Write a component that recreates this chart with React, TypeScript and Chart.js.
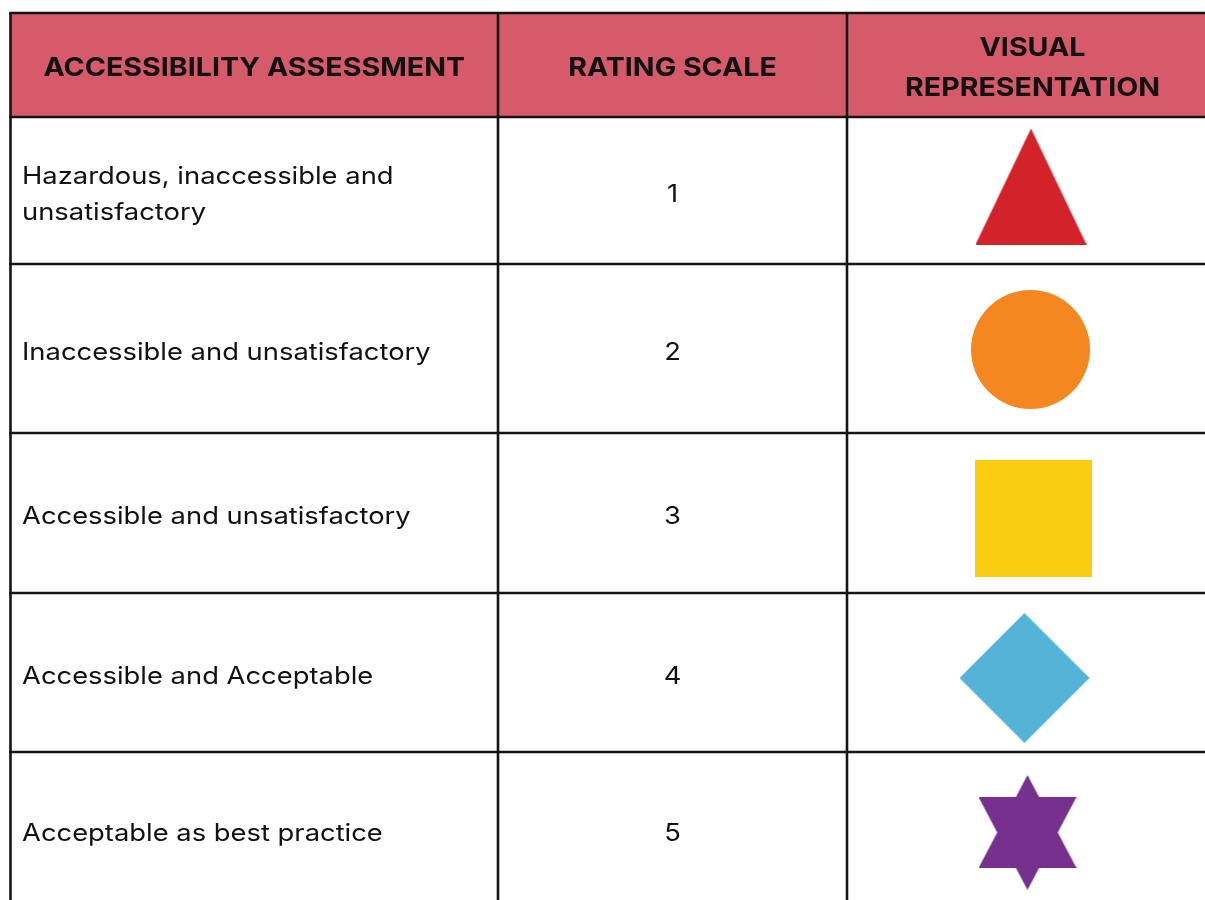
import React, { useEffect, useRef } from "react";
import { Chart, registerables } from "chart.js";

Chart.register(...registerables);

// ---------- data ----------
const headers = ["ACCESSIBILITY ASSESSMENT", "RATING SCALE", "VISUAL\nREPRESENTATION"];
const assessments = [
  "Hazardous, inaccessible and\nunsatisfactory",
  "Inaccessible and unsatisfactory",
  "Accessible and unsatisfactory",
  "Accessible and Acceptable",
  "Acceptable as best practice",
];
const ratings = [1, 2, 3, 4, 5];
const shapeKinds = ["triangle", "circle", "square", "diamond", "hexagram"];
const shapeColors = ["#D2232A", "#F58720", "#FACD12", "#54B4D8", "#76318E"];

// ---------- layout (pixel units of the chart's x / y scales) ----------
const W = 1205;
const H = 900;
const COL_EDGES = [10.5, 498, 847, 1218];
const ROW_EDGES = [13, 117, 264, 433, 593, 752, 907];
const SHAPE_NUDGE_X = [-1.5, -2, 0.5, -8, -5];
const SHAPE_NUDGE_Y = [-4, 1, 5, 5.5, 3];
const TEXT_NUDGE_Y = 2.5;
const HEADER_BG = "#D75A6B";
const LINE_COLOR = "#151515";
const HEADER_FONT = "700 26px Inter, 'Noto Sans', sans-serif";
const BODY_FONT = "400 24px Inter, 'Noto Sans', sans-serif";
const HEADER_STRETCH = 1.1;
const BODY_STRETCH = 1.14;

function makeShape(kind: string, color: string): HTMLCanvasElement {
  const c = document.createElement("canvas");
  let w = 0, h = 0;
  if (kind === "triangle") { w = 111; h = 116; }
  else if (kind === "circle") { w = 119; h = 119; }
  else if (kind === "square") { w = 117; h = 117; }
  else if (kind === "diamond") { w = 130; h = 130; }
  else { w = 98; h = 115; }
  c.width = w; c.height = h;
  const g = c.getContext("2d")!;
  g.fillStyle = color;
  g.beginPath();
  if (kind === "triangle") {
    g.moveTo(w / 2, 0); g.lineTo(w, h); g.lineTo(0, h); g.closePath();
  } else if (kind === "circle") {
    g.arc(w / 2, h / 2, w / 2, 0, Math.PI * 2);
  } else if (kind === "square") {
    g.rect(0, 0, w, h);
  } else if (kind === "diamond") {
    g.moveTo(w / 2, 0); g.lineTo(w, h / 2); g.lineTo(w / 2, h); g.lineTo(0, h / 2); g.closePath();
  } else {
    g.moveTo(w / 2, 0); g.lineTo(w, 93); g.lineTo(0, 93); g.closePath();
    g.moveTo(w / 2, h); g.lineTo(0, 22); g.lineTo(w, 22); g.closePath();
  }
  g.fill();
  return c;
}

const tablePlugin = {
  id: "tableGrid",
  beforeDatasetsDraw(chart: any) {
    const { ctx, scales } = chart;
    const xs = scales.x, ys = scales.y;
    const px = (v: number) => xs.getPixelForValue(v);
    const py = (v: number) => ys.getPixelForValue(v);
    ctx.save();
    // header background
    ctx.fillStyle = HEADER_BG;
    ctx.fillRect(px(COL_EDGES[0]), py(ROW_EDGES[0]), px(COL_EDGES[3]) - px(COL_EDGES[0]), py(ROW_EDGES[1]) - py(ROW_EDGES[0]));
    // grid lines
    ctx.strokeStyle = LINE_COLOR;
    ctx.lineWidth = 2.6;
    ROW_EDGES.forEach((r) => {
      ctx.beginPath();
      ctx.moveTo(px(COL_EDGES[0]) - 1.3, py(r));
      ctx.lineTo(px(COL_EDGES[3]), py(r));
      ctx.stroke();
    });
    COL_EDGES.forEach((c) => {
      ctx.beginPath();
      ctx.moveTo(px(c), py(ROW_EDGES[0]));
      ctx.lineTo(px(c), py(ROW_EDGES[ROW_EDGES.length - 1]) + 20);
      ctx.stroke();
    });
    // text helper: draws lines cap-centred around cy, stretched horizontally
    const drawLines = (text: string, x: number, cy: number, font: string, capH: number, lh: number, align: CanvasTextAlign, sx: number) => {
      const lines = text.split("\n");
      ctx.font = font;
      ctx.textAlign = align;
      ctx.textBaseline = "alphabetic";
      ctx.fillStyle = "#111111";
      lines.forEach((ln, i) => {
        const c = cy + (i - (lines.length - 1) / 2) * lh;
        ctx.save();
        ctx.translate(x, c + capH / 2);
        ctx.scale(sx, 1);
        ctx.fillText(ln, 0, 0);
        ctx.restore();
      });
    };
    // headers
    const hc = (py(ROW_EDGES[0]) + py(ROW_EDGES[1])) / 2;
    headers.forEach((t, i) => {
      const cx = (px(COL_EDGES[i]) + px(COL_EDGES[i + 1])) / 2;
      drawLines(t, cx, hc + 1.5, HEADER_FONT, 19, 40, "center", HEADER_STRETCH);
    });
    // body
    assessments.forEach((t, i) => {
      const cy = (py(ROW_EDGES[i + 1]) + py(ROW_EDGES[i + 2])) / 2 + TEXT_NUDGE_Y;
      drawLines(t, px(COL_EDGES[0]) + 11.5, cy, BODY_FONT, 17.5, 36, "left", BODY_STRETCH);
      const cx = (px(COL_EDGES[1]) + px(COL_EDGES[2])) / 2;
      drawLines(String(ratings[i]), cx, cy, BODY_FONT, 17.5, 36, "center", BODY_STRETCH);
    });
    ctx.restore();
  },
};

export default function App() {
  const ref = useRef<HTMLCanvasElement | null>(null);
  useEffect(() => {
    if (!ref.current) return;
    const images = shapeKinds.map((k, i) => makeShape(k, shapeColors[i]));
    const shapeCol = (COL_EDGES[2] + COL_EDGES[3]) / 2;
    const points = ratings.map((r, i) => ({
      x: shapeCol + SHAPE_NUDGE_X[i],
      y: (ROW_EDGES[i + 1] + ROW_EDGES[i + 2]) / 2 + SHAPE_NUDGE_Y[i],
      rating: r,
    }));
    const chart = new Chart(ref.current, {
      type: "scatter",
      data: {
        datasets: [
          {
            label: "Visual representation",
            data: points,
            pointStyle: images as any,
            pointRadius: 1,
            pointHoverRadius: 1,
            backgroundColor: shapeColors,
            borderWidth: 0,
            clip: false as any,
          },
        ],
      },
      options: {
        animation: false,
        responsive: false,
        devicePixelRatio: 1,
        layout: { padding: 0, autoPadding: false },
        events: [],
        plugins: { legend: { display: false }, tooltip: { enabled: false }, title: { display: false } },
        scales: {
          x: { type: "linear", min: 0, max: W, display: false },
          y: { type: "linear", min: 0, max: H, reverse: true, display: false },
        },
      },
      plugins: [tablePlugin],
    });
    return () => chart.destroy();
  }, []);
  return (
    <div style={{ position: "absolute", left: 0, top: 0, width: W, height: H, background: "#ffffff" }}>
      <canvas ref={ref} width={W} height={H} style={{ display: "block", width: W, height: H }} />
    </div>
  );
}
